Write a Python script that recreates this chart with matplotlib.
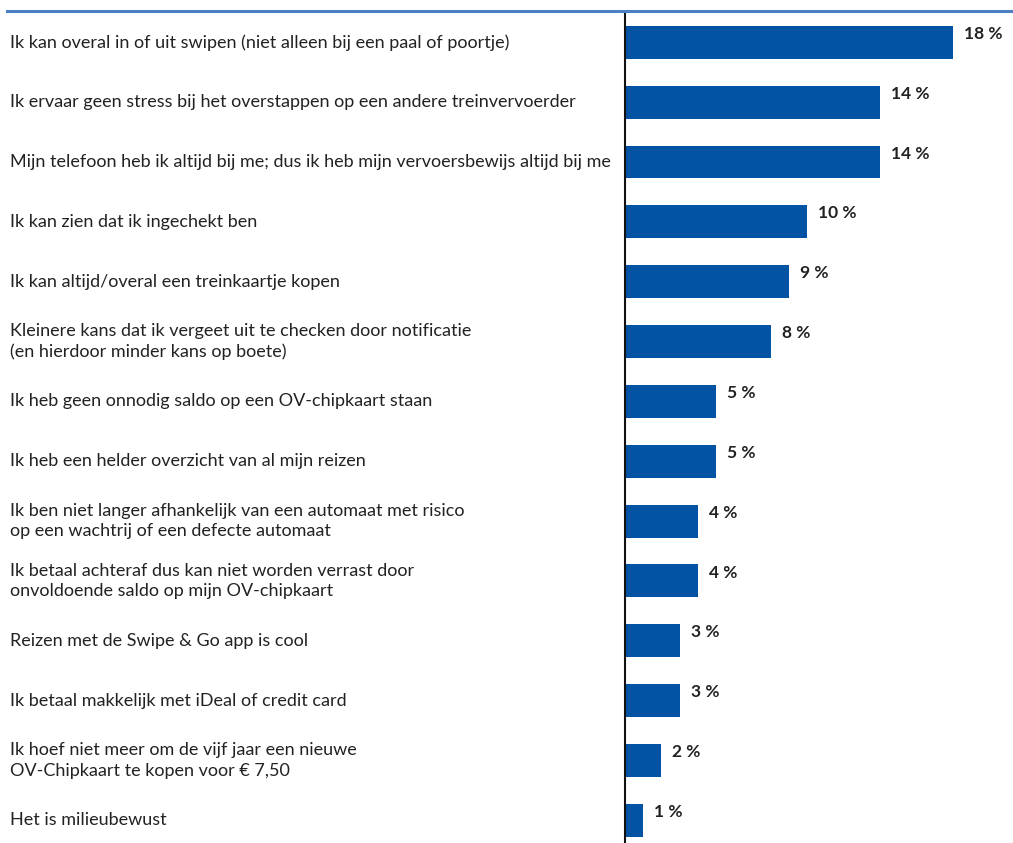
import matplotlib.pyplot as plt
from matplotlib.lines import Line2D

labels = [
    "Ik kan overal in of uit swipen (niet alleen bij een paal of poortje)",
    "Ik ervaar geen stress bij het overstappen op een andere treinvervoerder",
    "Mijn telefoon heb ik altijd bij me; dus ik heb mijn vervoersbewijs altijd bij me",
    "Ik kan zien dat ik ingechekt ben",
    "Ik kan altijd/overal een treinkaartje kopen",
    "Kleinere kans dat ik vergeet uit te checken door notificatie\n(en hierdoor minder kans op boete)",
    "Ik heb geen onnodig saldo op een OV-chipkaart staan",
    "Ik heb een helder overzicht van al mijn reizen",
    "Ik ben niet langer afhankelijk van een automaat met risico\nop een wachtrij of een defecte automaat",
    "Ik betaal achteraf dus kan niet worden verrast door\nonvoldoende saldo op mijn OV-chipkaart",
    "Reizen met de Swipe & Go app is cool",
    "Ik betaal makkelijk met iDeal of credit card",
    "Ik hoef niet meer om de vijf jaar een nieuwe\nOV-Chipkaart te kopen voor € 7,50",
    "Het is milieubewust",
]
values = [18, 14, 14, 10, 9, 8, 5, 5, 4, 4, 3, 3, 2, 1]

bar_color = '#0353a4'

fig = plt.figure(figsize=(10.13, 8.43), dpi=100)
ax = fig.add_axes([0.617, 0.0, 0.383, 0.983])

ypos = list(range(len(values)))
ax.barh(ypos, values, height=0.55, color=bar_color)
ax.set_xlim(0, 21.3)
ax.set_ylim(13.38, -0.468)

for y, v, lab in zip(ypos, values, labels):
    ax.text(v + 0.6, y - 0.14, f"{v} %", ha='left', va='center',
            fontsize=12.5, fontweight='bold', color='#222222', family='Lato')
    ax.annotate(lab, xy=(0, y), xycoords=('figure fraction', 'data'),
                xytext=(10, 0), textcoords='offset pixels',
                ha='left', va='center', fontsize=13, color='#222222',
                family='Lato', linespacing=1.35)

for s in ['top', 'right', 'bottom']:
    ax.spines[s].set_visible(False)
ax.spines['left'].set_linewidth(1.5)
ax.spines['left'].set_color('#111111')
ax.set_xticks([])
ax.set_yticks([])

# blue rule under the (cropped) title
fig.add_artist(Line2D([0.007, 1.0], [1 - 11 / 843, 1 - 11 / 843],
                      color='#4a7fc1', linewidth=2.2))

fig.savefig('out.png', dpi=100)
